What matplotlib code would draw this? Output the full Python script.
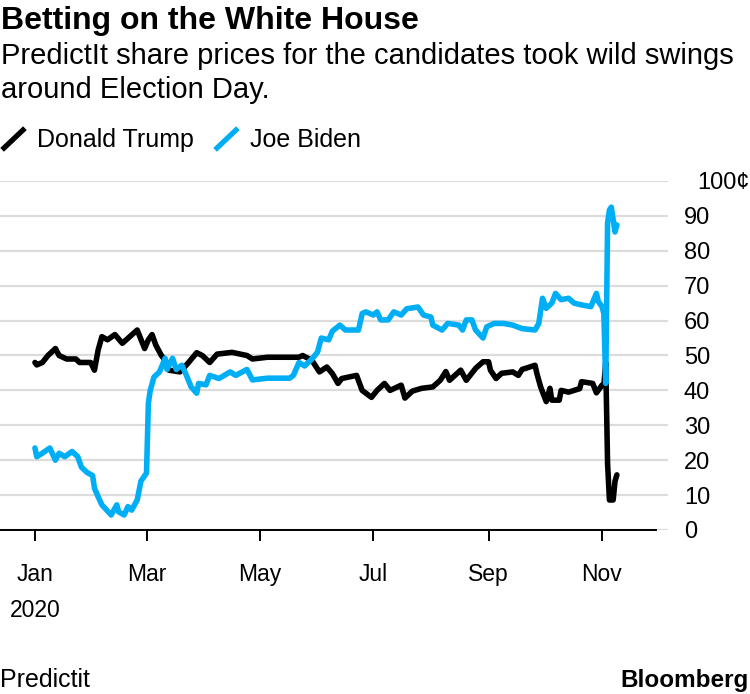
import numpy as np
import pandas as pd
import matplotlib
matplotlib.use("Agg")
import matplotlib.pyplot as plt
import matplotlib.dates as mdates
from matplotlib.lines import Line2D
from matplotlib.transforms import ScaledTranslation

plt.rcParams["font.family"] = ["Liberation Sans", "DejaVu Sans"]

# PredictIt share prices (cents)
trump_dates = [
    "2020-01-01", "2020-01-02", "2020-01-05", "2020-01-08", "2020-01-12", "2020-01-14",
    "2020-01-18", "2020-01-23", "2020-01-25", "2020-01-31", "2020-02-02", "2020-02-04",
    "2020-02-06", "2020-02-09", "2020-02-13", "2020-02-17", "2020-02-21", "2020-02-25",
    "2020-02-29", "2020-03-02", "2020-03-04", "2020-03-06", "2020-03-09", "2020-03-12",
    "2020-03-13", "2020-03-19", "2020-03-23", "2020-03-28", "2020-03-31", "2020-04-04",
    "2020-04-08", "2020-04-16", "2020-04-24", "2020-04-27", "2020-05-05", "2020-05-22",
    "2020-05-24", "2020-05-29", "2020-06-02", "2020-06-06", "2020-06-09", "2020-06-12",
    "2020-06-14", "2020-06-22", "2020-06-25", "2020-06-30", "2020-07-03", "2020-07-07",
    "2020-07-10", "2020-07-16", "2020-07-18", "2020-07-22", "2020-07-27", "2020-08-02",
    "2020-08-06", "2020-08-09", "2020-08-11", "2020-08-17", "2020-08-20", "2020-08-25",
    "2020-08-29", "2020-09-01", "2020-09-02", "2020-09-05", "2020-09-08", "2020-09-14",
    "2020-09-17", "2020-09-19", "2020-09-26", "2020-09-27", "2020-09-29", "2020-10-02",
    "2020-10-04", "2020-10-05", "2020-10-09", "2020-10-10", "2020-10-14", "2020-10-20",
    "2020-10-21", "2020-10-27", "2020-10-29", "2020-11-01", "2020-11-02", "2020-11-03",
    "2020-11-04", "2020-11-05", "2020-11-07", "2020-11-08", "2020-11-09",
]
trump_values = [
    48, 47.3, 48, 50, 52, 50,
    49, 49, 48, 48, 45.8, 51.6,
    55.4, 54.5, 56, 53.5, 55.4, 57.3,
    52, 54.5, 56, 53, 50, 48,
    45.8, 45.3, 47.6, 50.8, 50, 48,
    50.4, 50.9, 50, 49, 49.5, 49.5,
    50, 48.6, 45.3, 46.7, 44.8, 42,
    43.4, 44.3, 40, 38, 40, 42,
    40, 41.5, 37.8, 39.8, 40.6, 41,
    42.9, 45.4, 42.9, 45.8, 42.9, 46.3,
    48.2, 48.2, 45.8, 43.4, 44.9, 45.3,
    44.3, 46, 47.2, 44.8, 41, 36.8,
    40.6, 37.2, 37.2, 40, 39.5, 40.5,
    42.5, 42, 39.3, 41.5, 41.5, 48,
    19, 8.6, 8.6, 14, 15.8,
]

biden_dates = [
    "2020-01-01", "2020-01-02", "2020-01-05", "2020-01-09", "2020-01-12", "2020-01-14",
    "2020-01-17", "2020-01-21", "2020-01-24", "2020-01-26", "2020-01-29", "2020-02-01",
    "2020-02-02", "2020-02-04", "2020-02-06", "2020-02-11", "2020-02-14", "2020-02-15",
    "2020-02-18", "2020-02-20", "2020-02-22", "2020-02-25", "2020-02-27", "2020-03-01",
    "2020-03-02", "2020-03-03", "2020-03-05", "2020-03-08", "2020-03-11", "2020-03-12",
    "2020-03-15", "2020-03-17", "2020-03-20", "2020-03-22", "2020-03-25", "2020-03-28",
    "2020-03-29", "2020-04-02", "2020-04-04", "2020-04-09", "2020-04-15", "2020-04-18",
    "2020-04-24", "2020-04-27", "2020-05-05", "2020-05-17", "2020-05-19", "2020-05-22",
    "2020-05-25", "2020-05-29", "2020-06-01", "2020-06-03", "2020-06-07", "2020-06-09",
    "2020-06-13", "2020-06-16", "2020-06-23", "2020-06-25", "2020-06-27", "2020-07-01",
    "2020-07-03", "2020-07-05", "2020-07-09", "2020-07-12", "2020-07-16", "2020-07-19",
    "2020-07-25", "2020-07-28", "2020-08-01", "2020-08-02", "2020-08-07", "2020-08-10",
    "2020-08-16", "2020-08-18", "2020-08-20", "2020-08-23", "2020-08-25", "2020-08-29",
    "2020-08-31", "2020-09-04", "2020-09-09", "2020-09-14", "2020-09-19", "2020-09-26",
    "2020-09-28", "2020-09-30", "2020-10-02", "2020-10-05", "2020-10-07", "2020-10-10",
    "2020-10-14", "2020-10-17", "2020-10-21", "2020-10-26", "2020-10-29", "2020-10-30",
    "2020-11-01", "2020-11-02", "2020-11-03", "2020-11-04", "2020-11-05", "2020-11-06",
    "2020-11-08", "2020-11-09",
]
biden_values = [
    23.5, 21, 22, 23.5, 20, 22,
    21, 22.5, 21, 18, 16.5, 15.6,
    12, 9.5, 7.2, 4.3, 7.2, 5.2,
    4.3, 6.7, 5.7, 8.6, 14, 16.3,
    36.3, 40, 43.8, 45.3, 49.2, 46,
    49.2, 46, 47.2, 44.9, 41, 39.2,
    42, 41.6, 44.3, 43.4, 45.3, 44.3,
    46, 43, 43.5, 43.5, 44.3, 48,
    47, 49, 51, 55, 54.5, 57,
    58.7, 57.3, 57.3, 62, 62.5, 61.6,
    62.5, 60.2, 60.2, 62.5, 61.6, 63.4,
    63.9, 61.6, 61, 58.7, 57.3, 59.2,
    58.7, 57.3, 60.2, 60.2, 57.3, 55,
    58.2, 59.2, 59.2, 58.7, 57.7, 57.3,
    59.2, 66.4, 63.5, 65, 67.8, 66,
    66.4, 65, 64.5, 64, 67.8, 65.5,
    64, 62, 42, 88, 91.7, 92.5,
    85.4, 87.4,
]

y_ticks = [0, 10, 20, 30, 40, 50, 60, 70, 80, 90, 100]
y_labels = ["0", "10", "20", "30", "40", "50", "60", "70", "80", "90", "100¢"]
month_ticks = ["2020-01-01", "2020-03-01", "2020-05-01", "2020-07-01", "2020-09-01", "2020-11-01"]
month_labels = ["Jan\n2020", "Mar", "May", "Jul", "Sep", "Nov"]

TRUMP_COLOR = "#000000"
BIDEN_COLOR = "#00aef5"
W, H = 750, 694

fig = plt.figure(figsize=(7.5, 6.94), dpi=100)
ax = fig.add_axes([0, 1 - 530 / H, 668 / W, (530 - 181) / H])

trump = pd.Series(trump_values, index=pd.to_datetime(trump_dates))
biden = pd.Series(biden_values, index=pd.to_datetime(biden_dates))

ax.plot(trump.index, trump.values, color=TRUMP_COLOR, lw=4, solid_joinstyle="round",
        solid_capstyle="round", zorder=3)
ax.plot(biden.index, biden.values, color=BIDEN_COLOR, lw=4, solid_joinstyle="round",
        solid_capstyle="round", zorder=3)

ax.set_ylim(0, 100)
jan1 = mdates.date2num(pd.Timestamp("2020-01-01"))
x_left = jan1 - 18.8
x_right = jan1 + 340.5
ax.set_xlim(x_left, x_right)

for y in y_ticks:
    ax.axhline(y, color="#dcdcdc", lw=1.6, zorder=1)

for side in ["top", "left", "right"]:
    ax.spines[side].set_visible(False)
ax.spines["bottom"].set_bounds(x_left, jan1 + 334)
ax.spines["bottom"].set_linewidth(1.4)
ax.spines["bottom"].set_zorder(4)

ax.set_xticks(pd.to_datetime(month_ticks))
ax.set_xticklabels(month_labels)
ax.tick_params(axis="x", direction="out", length=8, width=1.4, pad=16, labelsize=16.5)
for lab in ax.get_xticklabels():
    lab.set_linespacing(1.7)

ax.yaxis.tick_right()
ax.set_yticks(y_ticks)
ax.set_yticklabels(y_labels)
ax.tick_params(axis="y", length=0, pad=11.5, labelsize=17)
for lab in ax.get_yticklabels():
    lab.set_horizontalalignment("left")
top_label = ax.get_yticklabels()[-1]
top_label.set_transform(top_label.get_transform() + ScaledTranslation(13 / 100, 0, fig.dpi_scale_trans))

# header
fig.text(1 / W, 1 - 29 / H, "Betting on the White House", fontsize=23, fontweight="bold",
         ha="left", va="baseline")
fig.text(1 / W, 1 - 64 / H, "PredictIt share prices for the candidates took wild swings",
         fontsize=21, ha="left", va="baseline")
fig.text(1 / W, 1 - 98 / H, "around Election Day.", fontsize=21, ha="left", va="baseline")

# legend with slanted line markers
for x0, color, label, tx in [(4, TRUMP_COLOR, "Donald Trump", 37), (217, BIDEN_COLOR, "Joe Biden", 250)]:
    fig.add_artist(Line2D([x0 / W, (x0 + 19) / W], [1 - 148 / H, 1 - 130 / H],
                          color=color, lw=3.8, transform=fig.transFigure))
    fig.text(tx / W, 1 - 147 / H, label, fontsize=18, ha="left", va="baseline")

# footer
fig.text(0 / W, 1 - 687 / H, "Predictit", fontsize=18, ha="left", va="baseline")
fig.text(749 / W, 1 - 687 / H, "Bloomberg", fontsize=17.5, fontweight="bold",
         ha="right", va="baseline")

fig.savefig("out.png", dpi=100)
